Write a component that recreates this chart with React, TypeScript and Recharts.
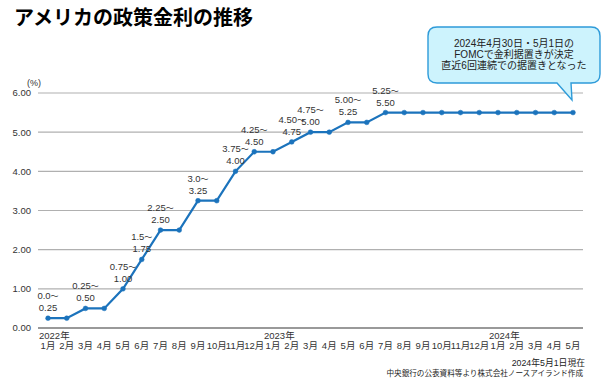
import React from "react";
import { LineChart, Line, XAxis, YAxis, CartesianGrid } from "recharts";

const months = [
  "1月", "2月", "3月", "4月", "5月", "6月", "7月", "8月", "9月", "10月", "11月", "12月",
  "1月", "2月", "3月", "4月", "5月", "6月", "7月", "8月", "9月", "10月", "11月", "12月",
  "1月", "2月", "3月", "4月", "5月",
];
const years = ["2022年", "2023年", "2024年"];

// 政策金利（上限）
const rates = [
  0.25, 0.25, 0.5, 0.5, 1.0, 1.75, 2.5, 2.5, 3.25, 3.25, 4.0, 4.5,
  4.5, 4.75, 5.0, 5.0, 5.25, 5.25, 5.5, 5.5, 5.5, 5.5, 5.5, 5.5,
  5.5, 5.5, 5.5, 5.5, 5.5,
];

// 変更時のレンジ表記（下限・上限）
const rangeLow = [
  "0.0", "", "0.25", "", "0.75", "1.5", "2.25", "", "3.0", "", "3.75", "4.25",
  "", "4.50", "4.75", "", "5.00", "", "5.25", "", "", "", "", "",
  "", "", "", "", "",
];
const rangeHigh = [
  "0.25", "", "0.50", "", "1.00", "1.75", "2.50", "", "3.25", "", "4.00", "4.50",
  "", "4.75", "5.00", "", "5.25", "", "5.50", "", "", "", "", "",
  "", "", "", "", "",
];

const yTicks = [0, 1, 2, 3, 4, 5, 6];

const calloutLines = [
  "2024年4月30日・5月1日の",
  "FOMCで金利据置きが決定",
  "直近6回連続での据置きとなった",
];

const LATIN = "'Liberation Sans', 'Noto Sans CJK JP', sans-serif";
const CJK = "'Noto Sans CJK JP', sans-serif";

let yearIdx = 0;
const data = months.map((m, i) => ({
  month: m,
  year: m === "1月" ? years[yearIdx++] : "",
  rate: rates[i],
  lo: rangeLow[i],
  hi: rangeHigh[i],
}));

const MonthTick = (props: any) => {
  const { x, y, payload } = props;
  const d = data[payload.index];
  return (
    <g>
      {d.year && (
        <text x={x - 9} y={y + 11} fontSize={9.5} fill="#333" fontFamily={LATIN}>
          {d.year}
        </text>
      )}
      <text x={x} y={y + 21} fontSize={9.5} fill="#333" textAnchor="middle" fontFamily={LATIN}>
        {payload.value}
      </text>
    </g>
  );
};

const RangeLabel = (props: any) => {
  const { x, y, index } = props;
  const d = data[index];
  if (!d || !d.lo) return null;
  return (
    <g fontSize={9.5} fill="#333" fontFamily={LATIN} textAnchor="middle">
      <text x={x} y={y - 19}>
        {d.lo}
        <tspan fontSize={8}>〜</tspan>
      </text>
      <text x={x} y={y - 7}>{d.hi}</text>
    </g>
  );
};

export default function App() {
  return (
    <div style={{ position: "absolute", left: 0, top: 0, width: 607, height: 391, background: "#fff" }}>
      <LineChart
        width={607}
        height={391}
        data={data}
        margin={{ top: 93, right: 24, bottom: 33, left: 0 }}
      >
        <CartesianGrid vertical={false} stroke="#b0b0b0" strokeWidth={1.2} />
        <XAxis
          dataKey="month"
          interval={0}
          height={30}
          padding={{ left: 10, right: 10 }}
          axisLine={{ stroke: "#999", strokeWidth: 2 }}
          tickLine={false}
          tickSize={0}
          tickMargin={0}
          tick={<MonthTick />}
        />
        <YAxis
          domain={[0, 6]}
          ticks={yTicks}
          width={38}
          axisLine={false}
          tickLine={false}
          tickSize={0}
          tickMargin={7}
          tickFormatter={(v) => Number(v).toFixed(2)}
          tick={{ fontSize: 9.5, fill: "#333", fontFamily: LATIN }}
        />
        <Line
          type="linear"
          dataKey="rate"
          stroke="#1b73bc"
          strokeWidth={2.2}
          dot={{ r: 2.4, fill: "#1b73bc", stroke: "#1b73bc", strokeWidth: 0.5 }}
          label={<RangeLabel />}
          isAnimationActive={false}
        />
      </LineChart>
      <svg
        width={607}
        height={391}
        style={{ position: "absolute", left: 0, top: 0, pointerEvents: "none" }}
      >
        <text x={14} y={25} fontSize={20} fontWeight={700} fill="#000" fontFamily={CJK}>
          アメリカの政策金利の推移
        </text>
        <text x={27} y={86} fontSize={9} fill="#333" fontFamily={LATIN}>
          (%)
        </text>
        <path
          d="M 437 27 H 591 Q 600 27 600 36 V 74 Q 600 83 591 83 H 571 L 572 100 L 557 83 H 437 Q 428 83 428 74 V 36 Q 428 27 437 27 Z"
          fill="#cdf3fd"
          stroke="#2e9bd9"
          strokeWidth={1.4}
        />
        {calloutLines.map((t, i) => (
          <text
            key={i}
            x={514}
            y={47 + i * 11}
            fontSize={10}
            fill="#222"
            textAnchor="middle"
            fontFamily={LATIN}
          >
            {t}
          </text>
        ))}
        <text x={585} y={366} fontSize={8.8} fill="#222" textAnchor="end" fontFamily={LATIN}>
          2024年5月1日現在
        </text>
        <text x={583} y={376} fontSize={7.6} fill="#222" textAnchor="end" fontFamily={CJK}>
          中央銀行の公表資料等より株式会社ノースアイランド作成
        </text>
      </svg>
    </div>
  );
}
